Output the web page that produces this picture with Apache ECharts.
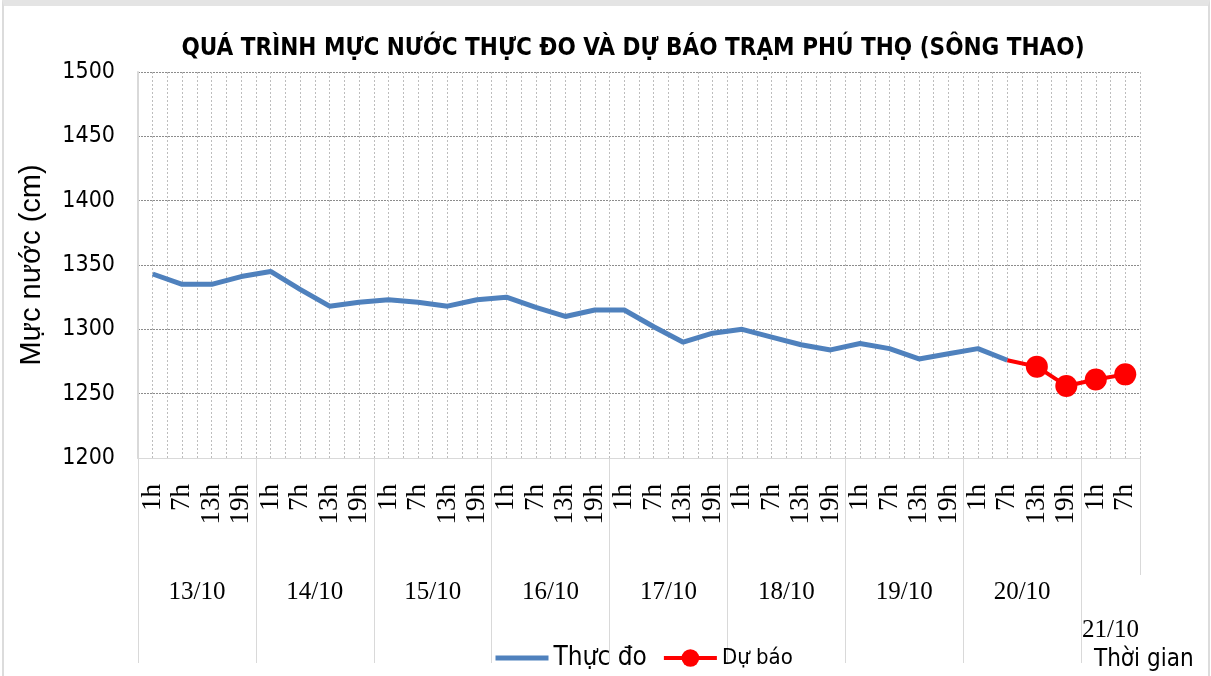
<!DOCTYPE html>
<html>
<head>
<meta charset="utf-8">
<script src="https://cdn.jsdelivr.net/npm/echarts@6/dist/echarts.min.js"></script>
<style>
  html, body { margin: 0; padding: 0; background: #fff; }
  #chart { width: 1211px; height: 676px; }
  #frame {
    position: absolute; left: 2px; top: 0; width: 1204px; height: 671px;
    border-top: 6px solid #e4e4e4; border-left: 2px solid #dcdcdc;
    border-right: 2px solid #dcdcdc; border-bottom: 2px solid #dcdcdc;
    pointer-events: none;
  }
</style>
</head>
<body>
<div id="chart"></div>
<div id="frame"></div>
<script>
// trục thời gian (giờ trong ngày)
var hours = [
  '1h', '7h', '13h', '19h', '1h', '7h', '13h', '19h',
  '1h', '7h', '13h', '19h', '1h', '7h', '13h', '19h',
  '1h', '7h', '13h', '19h', '1h', '7h', '13h', '19h',
  '1h', '7h', '13h', '19h', '1h', '7h', '13h', '19h',
  '1h', '7h'
]
// nhãn ngày và vị trí (tính theo số ô giờ)
var days = ['13/10', '14/10', '15/10', '16/10', '17/10', '18/10', '19/10', '20/10']
var dayPos = [2, 6, 10, 14, 18, 22, 26, 30]
var dayEdges = [0, 4, 8, 12, 16, 20, 24, 28, 32]
var lastDay = '21/10'
var lastDayPos = 33
var lastEdge = 34
// mực nước thực đo (cm)
var thucDo = [
  1343, 1335, 1335, 1341, 1345, 1331, 1318, 1321, 1323, 1321, 1318, 1323,
  1325, 1317, 1310, 1315, 1315, 1302, 1290, 1297, 1300, 1294, 1288, 1284,
  1289, 1285, 1277, 1281, 1285, 1276, '-', '-', '-', '-'
]
// mực nước dự báo (cm)
var duBao = [
  '-', '-', '-', '-', '-', '-', '-', '-', '-', '-', '-', '-',
  '-', '-', '-', '-', '-', '-', '-', '-', '-', '-', '-', '-',
  '-', '-', '-', '-', '-', { value: 1276, symbol: 'none' }, 1271, 1256, 1261, 1265
]
// trục tung
var yMin = 1200
var yMax = 1500
var yStep = 50

var narrow = '"Liberation Sans Narrow", "DejaVu Sans Condensed", sans-serif'
var serif = '"Liberation Serif", "DejaVu Serif", serif'

var chart = echarts.init(document.getElementById('chart'))
var option = {
  animation: false,
  title: [
    {
      text: 'QUÁ TRÌNH MỰC NƯỚC THỰC ĐO VÀ DỰ BÁO TRẠM PHÚ THỌ (SÔNG THAO)',
      left: 628,
      top: 32,
      textAlign: 'center',
      textStyle: { fontFamily: narrow, fontSize: 24, fontWeight: 'bold', color: '#000' }
    },
    {
      text: 'Thời gian',
      left: 1089,
      top: 643,
      textStyle: { fontFamily: narrow, fontSize: 24, fontWeight: 'normal', color: '#000' }
    }
  ],
  legend: {
    left: 488,
    top: 640,
    itemWidth: 53,
    itemHeight: 22,
    itemGap: 15,
    data: [
      {
        name: 'Thực đo',
        itemStyle: { opacity: 0 },
        lineStyle: { width: 5 },
        textStyle: { fontFamily: narrow, fontSize: 26, color: '#000' }
      },
      {
        name: 'Dự báo',
        lineStyle: { width: 4 },
        textStyle: { fontFamily: narrow, fontSize: 22, color: '#000' }
      }
    ]
  },
  grid: { left: 138, right: 71, top: 72, bottom: 218 },
  xAxis: [
    {
      // nhãn giờ
      type: 'category',
      data: hours,
      boundaryGap: true,
      axisLine: { lineStyle: { color: '#d9d9d9', width: 1 } },
      axisTick: { show: false },
      splitLine: { show: false },
      axisLabel: {
        interval: 0,
        rotate: 90,
        margin: 26,
        fontFamily: serif,
        fontSize: 27,
        color: '#000'
      }
    },
    {
      // nhãn ngày + vạch phân cách
      type: 'value',
      min: 0,
      max: 34,
      position: 'bottom',
      axisLine: { show: false },
      splitLine: { show: false },
      axisTick: {
        show: true,
        customValues: dayEdges,
        length: 205,
        lineStyle: { color: '#d9d9d9', width: 1 }
      },
      axisLabel: {
        customValues: dayPos,
        margin: 122,
        fontFamily: serif,
        fontSize: 25,
        color: '#000',
        formatter: function (v) {
          return days[dayPos.indexOf(v)]
        }
      }
    },
    {
      // ngày cuối
      type: 'value',
      min: 0,
      max: 34,
      position: 'bottom',
      axisLine: { show: false },
      splitLine: { show: false },
      axisTick: {
        show: true,
        customValues: [lastEdge],
        length: 117,
        lineStyle: { color: '#d9d9d9', width: 1 }
      },
      axisLabel: {
        customValues: [lastDayPos],
        margin: 160,
        fontFamily: serif,
        fontSize: 25,
        color: '#000',
        formatter: function () {
          return lastDay
        }
      }
    },
    {
      // lưới dọc
      type: 'value',
      min: 0,
      max: 34,
      interval: 0.5,
      position: 'top',
      axisLine: { show: false },
      axisTick: { show: false },
      axisLabel: { show: false },
      splitLine: {
        show: true,
        lineStyle: { color: '#bdbdbd', type: [2, 2], width: 1 }
      }
    }
  ],
  yAxis: {
    type: 'value',
    min: yMin,
    max: yMax,
    interval: yStep,
    name: 'Mực nước (cm)',
    nameLocation: 'middle',
    nameGap: 92,
    nameTextStyle: { fontFamily: '"Liberation Sans", sans-serif', fontSize: 29, color: '#000' },
    axisLine: { show: true, lineStyle: { color: '#d9d9d9', width: 2 } },
    axisTick: { show: false },
    axisLabel: {
      margin: 23,
      fontFamily: narrow,
      fontSize: 23,
      color: '#000',
      formatter: function (v) {
        return String(v)
      }
    },
    splitLine: { lineStyle: { color: '#8c8c8c', type: [2, 1], width: 1 } }
  },
  series: [
    {
      name: 'Thực đo',
      type: 'line',
      data: thucDo,
      symbol: 'none',
      lineStyle: { color: '#4f81bd', width: 5 },
      itemStyle: { color: '#4f81bd' },
      z: 3
    },
    {
      name: 'Dự báo',
      type: 'line',
      data: duBao,
      symbol: 'circle',
      symbolSize: 22,
      lineStyle: { color: '#ff0000', width: 4 },
      itemStyle: { color: '#ff0000' },
      z: 4
    }
  ]
}
chart.setOption(option)
</script>
</body>
</html>
